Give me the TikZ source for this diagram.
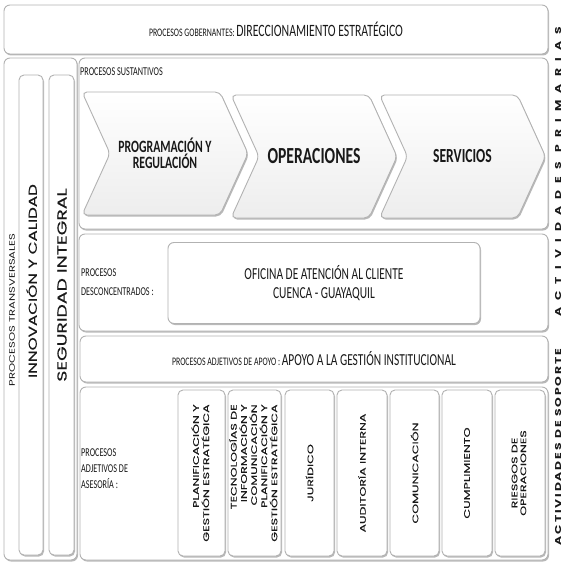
\documentclass[tikz,border=0pt]{standalone}
\usepackage{fontspec}
\setmainfont[FakeStretch=0.68]{Carlito}
\newfontfamily\vfont[FakeStretch=1.45,FakeBold=0.4]{Poppins}
\newfontfamily\lightfont[FakeStretch=1.45]{Poppins}
\newfontfamily\subfont[FakeStretch=1.56,FakeBold=0.3]{Poppins}
\newfontfamily\primfont[FakeStretch=1.45,LetterSpace=84]{Poppins}
\newfontfamily\sopfont[FakeStretch=1.45,LetterSpace=22]{Poppins}
\usepackage{graphicx}
\usetikzlibrary{positioning,shapes.symbols,shadows}

\begin{document}
\begin{tikzpicture}[x=1pt, y=-1pt, text=black!90,
  panel/.style={draw=gray!60, line width=0.9pt, rounded corners=6pt, fill=white, inner sep=0pt,
    drop shadow={shadow xshift=1pt, shadow yshift=-1.5pt, opacity=0.55}},
  chev/.style={signal, signal from=west, signal to=east, signal pointer angle=131,
    draw=gray!60, line width=0.9pt, rounded corners=5pt, top color=white, bottom color=gray!14,
    minimum width=166pt, minimum height=123pt, inner sep=0pt, align=center,
    drop shadow={shadow xshift=1pt, shadow yshift=-1.5pt, opacity=0.55}},
  sub/.style={panel, rounded corners=5pt, minimum height=166pt,
    font=\subfont\fontsize{8.1}{8.8}\selectfont},
  lbl/.style={anchor=west, align=left, inner sep=0pt},
  vtxt/.style={rotate=90, inner sep=0pt, font=\vfont\fontsize{#1}{#1}\selectfont},
  vtxt/.default=8]
\useasboundingbox (0,0) rectangle (567,564);

% gobernantes
\node[panel, minimum width=544pt, minimum height=49pt] (gob) at (276,29.5)
  {{\fontsize{11.5}{13}\selectfont PROCESOS GOBERNANTES:} {\fontsize{17.3}{19}\selectfont DIRECCIONAMIENTO ESTRATÉGICO}};

% transversales
\node[panel, minimum width=73pt, minimum height=502pt] (trans) at (40.5,309) {};
\node[panel, rounded corners=5pt, minimum width=24pt, minimum height=480pt] (innov) at (31,315) {};
\node[panel, rounded corners=5pt, minimum width=25pt, minimum height=480pt] (segur) at (61.5,315) {};
\node[rotate=90, inner sep=0pt, font=\lightfont\fontsize{8}{8}\selectfont] (trans-lbl) at (12,310) {PROCESOS TRANSVERSALES};
\node[vtxt=11.5] (innov-lbl) at (31.5,281) {INNOVACIÓN Y CALIDAD};
\node[vtxt=13] (segur-lbl) at (62,285) {SEGURIDAD INTEGRAL};

% sustantivos
\node[panel, minimum width=469pt, minimum height=171pt] (sust) at (313.5,143.5) {};
\node[lbl, font=\fontsize{12}{14}\selectfont] (sust-lbl) at (80,72) {PROCESOS SUSTANTIVOS};
\node[chev] (prog) at (165,153.5) {\bfseries\fontsize{17.3}{24}\selectfont PROGRAMACIÓN Y\\\bfseries\fontsize{17.3}{24}\selectfont REGULACIÓN};
\node[chev] (oper) at (314,156.5) {\bfseries\fontsize{23}{26}\selectfont OPERACIONES};
\node[chev] (serv) at (462.5,156.5) {\bfseries\fontsize{20}{23}\selectfont SERVICIOS};

% desconcentrados
\node[panel, minimum width=469pt, minimum height=97pt] (desc) at (313.5,282.5) {};
\node[lbl, font=\fontsize{12}{18.5}\selectfont] (desc-lbl) at (81,282) {PROCESOS\\DESCONCENTRADOS :};
\node[panel, minimum width=312pt, minimum height=81pt, align=center, font=\fontsize{16.8}{19.5}\selectfont] (ofic) at (324,283)
  {OFICINA DE ATENCIÓN AL CLIENTE\\CUENCA - GUAYAQUIL};

% apoyo
\node[panel, minimum width=468pt, minimum height=46pt] (apoyo) at (314,359)
  {{\fontsize{11.5}{13}\selectfont PROCESOS ADJETIVOS DE APOYO :} {\fontsize{16.8}{18}\selectfont APOYO A LA GESTIÓN INSTITUCIONAL}};

% asesoria
\node[panel, minimum width=468pt, minimum height=173pt] (ases) at (314,473.5) {};
\node[lbl, font=\fontsize{12}{16}\selectfont] (ases-lbl) at (81,469) {PROCESOS\\ADJETIVOS DE\\ASESORÍA :};
\node[sub, minimum width=47pt] (plan) at (201.5,473)
  {\rotatebox{90}{\begin{tabular}{@{}r@{}}PLANIFICACIÓN Y\\GESTIÓN ESTRATÉGICA\end{tabular}}};
\node[sub, minimum width=53pt] (tic) at (254.5,473)
  {\rotatebox{90}{\begin{tabular}{@{}r@{}}TECNOLOGÍAS DE\\INFORMACIÓN Y\\COMUNICACIÓN\\PLANIFICACIÓN Y\\GESTIÓN ESTRATÉGICA\end{tabular}}};
\node[sub, minimum width=49pt] (jur) at (309.5,473) {\rotatebox{90}{JURÍDICO}};
\node[sub, minimum width=50pt] (aud) at (362,473) {\rotatebox{90}{AUDITORÍA INTERNA}};
\node[sub, minimum width=49pt] (com) at (414.5,473) {\rotatebox{90}{COMUNICACIÓN}};
\node[sub, minimum width=50pt] (cump) at (467,473) {\rotatebox{90}{CUMPLIMIENTO}};
\node[sub, minimum width=50pt] (ries) at (520,473)
  {\rotatebox{90}{\begin{tabular}{@{}c@{}}RIESGOS DE\\OPERACIONES\end{tabular}}};

% actividades
\node[rotate=90, inner sep=0pt, font=\primfont\bfseries\fontsize{8.5}{10}\selectfont] (prim) at (558,172) {ACTIVIDADES PRIMARIAS};
\node[rotate=90, inner sep=0pt, font=\sopfont\bfseries\fontsize{8.5}{10}\selectfont] (sop) at (558,447) {ACTIVIDADES DE SOPORTE};
\end{tikzpicture}
\end{document}
